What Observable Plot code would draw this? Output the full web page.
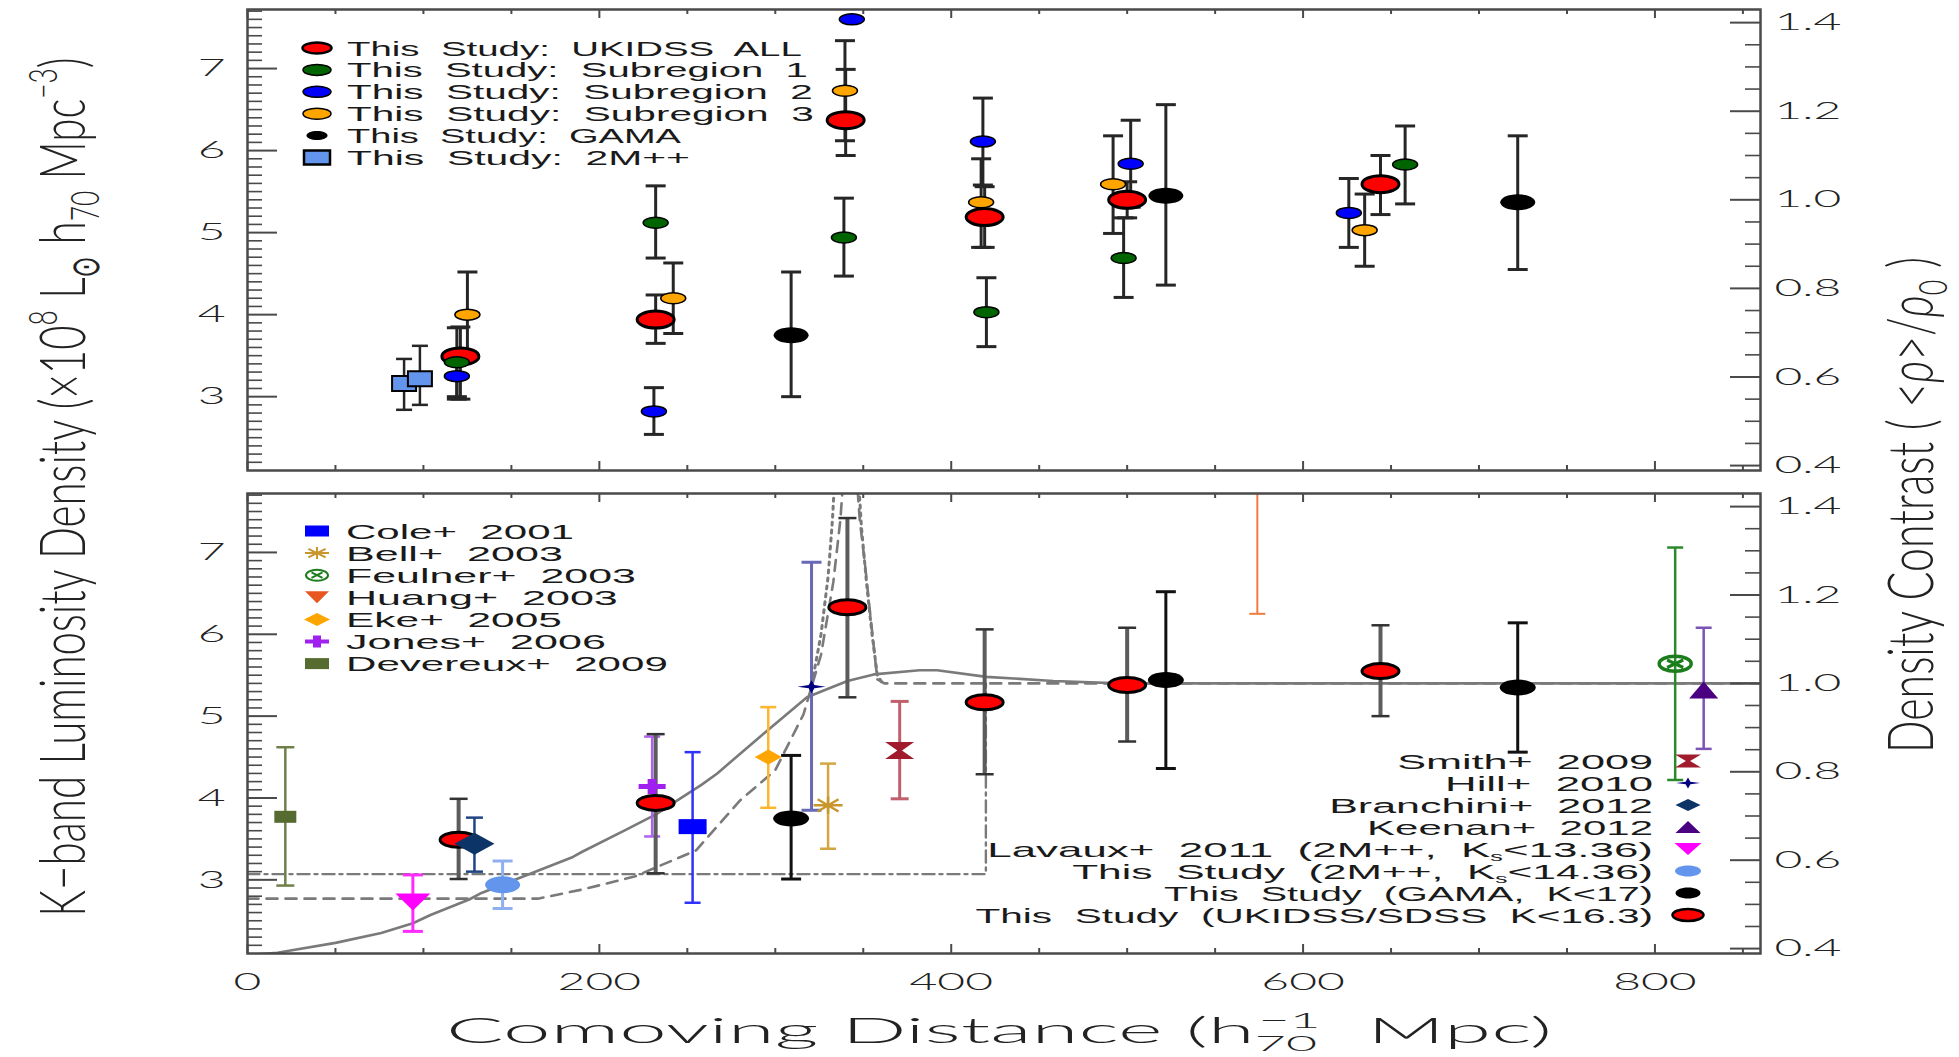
<!DOCTYPE html>
<html><head><meta charset="utf-8">
<script src="https://cdn.jsdelivr.net/npm/d3@7"></script>
<script src="https://cdn.jsdelivr.net/npm/@observablehq/plot@0.6"></script>
<style>
html,body{margin:0;padding:0;background:#fff;width:1959px;height:1057px;overflow:hidden;}
#wrap{position:relative;width:1959px;height:1057px;}
#topPanel,#botPanel,#ov{position:absolute;left:0;}
#topPanel{top:0px} #botPanel{top:480px} #ov{top:0px;pointer-events:none;}
</style></head>
<body><div id="wrap"><div id="topPanel"></div><div id="botPanel"></div><svg id="ov" width="1959" height="1057"></svg></div>
<script>
// ---------------- DATA (distance Mpc, value, lower, upper) ----------------
// Top panel
const topUkidssAll = [[121,3.49,2.97,3.85],[232,3.94,3.65,4.24],[340,6.37,5.94,6.99],[419,5.19,4.82,5.56],[500,5.40,5.18,5.62],[644,5.59,5.22,5.94]];
const topSub1 = [[119,3.42,3.00,3.84],[232,5.12,4.69,5.57],[339,4.94,4.47,5.42],[420,4.03,3.61,4.45],[498,4.69,4.21,5.18],[658,5.83,5.35,6.30]];
const topSub2 = [[119,3.25,2.97,3.53],[231,2.82,2.54,3.11],[343.5,7.60,7.60,7.60],[418,6.11,5.58,6.64],[502,5.84,5.31,6.37],[626,5.24,4.82,5.66]];
const topSub3 = [[125,4.00,3.48,4.52],[242,4.20,3.77,4.63],[339.6,6.73,6.12,7.34],[417,5.37,4.82,5.90],[492,5.59,4.99,6.18],[635,5.03,4.59,5.47]];
const topGama = [[309,3.75,3.00,4.52],[522,5.45,4.36,6.56],[722,5.37,4.55,6.18]];
const top2Mpp = [[89,3.16,2.84,3.46],[98,3.22,2.90,3.62]];
// Bottom panel
const studyUkidss = [[120,3.49,3.01,3.99],[232,3.94,3.08,4.78],[341,6.33,5.23,7.42],[419,5.17,4.29,6.06],[500,5.38,4.69,6.08],[644,5.55,5.00,6.11]];
const studyGama = [[309,3.75,3.01,4.52],[522,5.44,4.36,6.52],[722,5.35,4.56,6.14]];
const study2Mpp = [[145,2.94,2.65,3.23]];
const lavaux2011 = [[94,2.73,2.37,3.06]];
const branchini2012 = [[129,3.44,3.10,3.76]];
const keenan2012 = [[827.7,5.32,4.60,6.08]];
const hill2010 = [[320.6,5.36,3.85,6.88]];
const smith2009 = [[370.7,4.58,3.99,5.18]];
const devereux2009 = [[21.5,3.77,2.93,4.62]];
const jones2006 = [[230,4.14,3.53,4.75]];
const eke2005 = [[296,4.50,3.88,5.11]];
const huang2003 = [[574,8.00,6.25,9.75]];
const feulner2003 = [[811.5,5.64,4.22,7.06]];
const bell2003 = [[330,3.91,3.38,4.42]];
const cole2001 = [[253,3.65,2.72,4.56]];
// Model curves (distance, value)
const curveSolid = [[0,2.08],[17,2.11],[50,2.23],[76,2.35],[94,2.47],[104,2.57],[126,2.76],[133,2.84],[152,3.00],[185,3.28],[190,3.34],[215,3.61],[233,3.81],[245,3.98],[258,4.16],[267,4.30],[293,4.78],[318,5.23],[341,5.43],[356,5.51],[382,5.56],[392,5.56],[420,5.48],[458,5.43],[496,5.40],[860,5.40]];
const curveDashed = [[0,2.77],[165,2.77],[190,2.88],[220,3.04],[255,3.36],[280,3.97],[300,4.34],[316,5.02],[326,5.75],[333,6.64],[337,7.40],[339,8.00],[346,8.00],[348,7.40],[351,6.85],[354,6.24],[358,5.45],[362,5.40],[860,5.40]];
const curveDotted = [[320,5.30],[326,6.00],[330,6.70],[332.5,7.40],[334,8.00],[347,8.00],[349,7.30],[352,6.60],[355,6.00],[358,5.50],[361,5.40]];
const curveDashDot = [[0,3.07],[419.7,3.07],[419.7,5.40]];
// Axes
const L0 = 5.4; // luminosity density corresponding to density contrast 1
const xDomain = [0, 860], yDomain = [2.1, 7.72];
const xMajor = [0,200,400,600,800];
const xMinor = [50,100,150,250,300,350,450,500,550,650,700,750,850];
const yMajor = [3,4,5,6,7];
const yMinor = d3.range(22,78).map(i=>i/10).filter(v=>!yMajor.includes(v));
const rMajor = [0.4,0.6,0.8,1.0,1.2,1.4];
const rMinor = d3.range(8,29).filter(i=>i%4!==0).map(i=>i*0.05);

(function(){
// ---------------- symbols ----------------
const K = 0.5523;
const ellipse = (rx,ry)=>({draw(c){c.moveTo(rx,0);c.bezierCurveTo(rx,ry*K,rx*K,ry,0,ry);c.bezierCurveTo(-rx*K,ry,-rx,ry*K,-rx,0);c.bezierCurveTo(-rx,-ry*K,-rx*K,-ry,0,-ry);c.bezierCurveTo(rx*K,-ry,rx,-ry*K,rx,0);c.closePath();}});
const poly = pts=>({draw(c){pts.forEach(([x,y],i)=>i?c.lineTo(x,y):c.moveTo(x,y));c.closePath();}});
const rect = (w,h)=>poly([[-w/2,-h/2],[w/2,-h/2],[w/2,h/2],[-w/2,h/2]]);
const diamond = (w,h)=>poly([[0,-h/2],[w/2,0],[0,h/2],[-w/2,0]]);
const triUp = (w,h)=>poly([[0,-h/2],[w/2,h/2],[-w/2,h/2]]);
const triDown = (w,h)=>poly([[0,h/2],[w/2,-h/2],[-w/2,-h/2]]);
const plus = (w,h,t)=>{const a=w/2,b=h/2,u=t*w/h/2,v=t/2;return poly([[-u,-b],[u,-b],[u,-v],[a,-v],[a,v],[u,v],[u,b],[-u,b],[-u,v],[-a,v],[-a,-v],[-u,-v]]);};
const star4 = (w,h)=>poly([[0,-h/2],[w*0.1,-h*0.12],[w/2,0],[w*0.1,h*0.12],[0,h/2],[-w*0.1,h*0.12],[-w/2,0],[-w*0.1,-h*0.12]]);
const hourglass = (w,h)=>poly([[-w/2,-h/2],[w/2,-h/2],[w*0.08,0],[w/2,h/2],[-w/2,h/2],[-w*0.08,0]]);
const asterisk = (w,h)=>({draw(c){c.moveTo(-w/2,0);c.lineTo(w/2,0);c.moveTo(0,-h/2);c.lineTo(0,h/2);c.moveTo(-w*0.36,-h*0.36);c.lineTo(w*0.36,h*0.36);c.moveTo(-w*0.36,h*0.36);c.lineTo(w*0.36,-h*0.36);}});
const ocross = (rx,ry)=>({draw(c){ellipse(rx,ry).draw(c);c.moveTo(-rx*0.5,-ry*0.5);c.lineTo(rx*0.5,ry*0.5);c.moveTo(-rx*0.5,ry*0.5);c.lineTo(rx*0.5,-ry*0.5);}});
const hline = w=>({draw(c){c.moveTo(-w/2,0);c.lineTo(w/2,0);}});

// ---------------- helpers ----------------
const rows = a=>a.map(([d,v,lo,hi])=>({d,v,lo,hi}));
const pts = a=>a.map(([d,v])=>({d,v}));
const W=1959, ML=247, MR=199, PW=W-ML-MR, AX="#4a4a4a";
function bars(data,{stroke,sw=2.5,cap=18,capStroke=stroke,capSw=sw}){
  const r=rows(data).filter(o=>o.hi>o.lo);
  return [
    Plot.ruleX(r,{x:"d",y1:"lo",y2:"hi",stroke,strokeWidth:sw,clip:true}),
    Plot.dot(r,{x:"d",y:"lo",symbol:hline(cap),fill:"none",stroke:capStroke,strokeWidth:capSw,clip:true}),
    Plot.dot(r,{x:"d",y:"hi",symbol:hline(cap),fill:"none",stroke:capStroke,strokeWidth:capSw,clip:true})
  ];
}
function marker(data,symbol,fill,stroke="none",sw=0){
  return Plot.dot(rows(data),{x:"d",y:"v",symbol,fill,stroke,strokeWidth:sw,clip:true});
}
function frameMarks(PH,withX){
  const tk={stroke:AX,strokeWidth:2};
  const m=[
    Plot.tickY(yMajor,{y:d=>d,insetRight:PW-30,...tk}),
    Plot.tickY(yMinor,{y:d=>d,insetRight:PW-15,...tk,strokeWidth:1.6}),
    Plot.tickY(rMajor,{y:t=>t*L0,insetLeft:PW-30,...tk}),
    Plot.tickY(rMinor,{y:t=>t*L0,insetLeft:PW-15,...tk,strokeWidth:1.6}),
    Plot.tickX(xMajor,{x:d=>d,insetBottom:PH-9,...tk}),
    Plot.tickX(xMinor,{x:d=>d,insetBottom:PH-5,...tk}),
    Plot.tickX(xMajor,{x:d=>d,insetTop:PH-9,...tk}),
    Plot.tickX(xMinor,{x:d=>d,insetTop:PH-5,...tk}),
    Plot.frame({stroke:AX,strokeWidth:2.5}),
    Plot.text(yMajor,{y:d=>d,text:d=>String(d),frameAnchor:"left",dx:-22,textAnchor:"end",fontSize:24,fontWeight:300,fill:"#222"}),
    Plot.text(rMajor,{y:t=>t*L0,text:t=>t.toFixed(1),frameAnchor:"right",dx:14,textAnchor:"start",fontSize:24,fontWeight:300,fill:"#222"})
  ];
  if(withX) m.push(Plot.text(xMajor,{x:d=>d,text:d=>String(d),frameAnchor:"bottom",dy:19,lineAnchor:"top",fontSize:24,fontWeight:300,fill:"#222"}));
  return m;
}
// horizontally stretch each text about its own anchor point (keeps y / dy attributes intact)
function stretch(svg,s){
  svg.querySelectorAll("text").forEach(t=>{
    const xa=t.getAttribute("x"); let x=0;
    if(xa!=null && xa!=="" && isFinite(+xa)){x=+xa; t.removeAttribute("x");}
    const tr=t.getAttribute("transform")||"";
    t.setAttribute("transform",`${tr} translate(${x},0) scale(${s},1)`);
  });
}
const common={width:W,marginLeft:ML,marginRight:MR,x:{domain:xDomain,axis:null},y:{domain:yDomain,axis:null},
  style:{background:"transparent",fontFamily:"Lato, 'DejaVu Sans', sans-serif",fontSize:"24px",overflow:"visible"}};

// ---------------- TOP PANEL ----------------
const TB="#262626";
const topPlot = Plot.plot({...common,height:480,marginTop:9,marginBottom:10,marks:[
  ...bars(top2Mpp,{stroke:TB,sw:2.5,cap:16}),
  ...bars(topUkidssAll,{stroke:TB,sw:3,cap:20}),
  ...bars(topSub1,{stroke:TB,sw:3,cap:20}),
  ...bars(topSub2,{stroke:TB,sw:3,cap:20}),
  ...bars(topSub3,{stroke:TB,sw:3,cap:20}),
  ...bars(topGama,{stroke:TB,sw:3,cap:20}),
  marker(topUkidssAll,ellipse(18.5,8.5),"#ff0000","#000",3),
  marker(topSub1,ellipse(12.5,5.5),"#006400","#000",1.5),
  marker(topSub2,ellipse(12.5,5.5),"#0000ff","#000",1.5),
  marker(topSub3,ellipse(12.5,5.5),"#ffa500","#000",1.5),
  marker(topGama,ellipse(17.5,8),"#000"),
  marker(top2Mpp,rect(24,15),"#6495ed","#000",2),
  ...frameMarks(461,false)
]});
stretch(topPlot,2.0);
document.getElementById("topPanel").appendChild(topPlot);

// ---------------- BOTTOM PANEL ----------------
const botPlot = Plot.plot({...common,height:577,marginTop:13,marginBottom:104,marks:[
  Plot.line(pts(curveSolid),{x:"d",y:"v",stroke:"#7a7a7a",strokeWidth:2.6,clip:true}),
  Plot.line(pts(curveDashed),{x:"d",y:"v",stroke:"#7a7a7a",strokeWidth:2.6,strokeDasharray:"11,8",clip:true}),
  Plot.line(pts(curveDotted),{x:"d",y:"v",stroke:"#7a7a7a",strokeWidth:3,strokeDasharray:"3,5",clip:true}),
  Plot.line(pts(curveDashDot),{x:"d",y:"v",stroke:"#7a7a7a",strokeWidth:2.4,strokeDasharray:"12,5,3,5",clip:true}),
  ...bars(devereux2009,{stroke:"#6f7f48",sw:2.5,cap:18}),
  ...bars(lavaux2011,{stroke:"#ff2bff",sw:3,cap:20}),
  ...bars(study2Mpp,{stroke:"#8fb0f0",sw:3,cap:20}),
  ...bars(branchini2012,{stroke:"#1f4585",sw:2.5,cap:17}),
  ...bars(jones2006,{stroke:"#b060f0",sw:2.5,cap:16}),
  ...bars(cole2001,{stroke:"#3030ff",sw:2.5,cap:16}),
  ...bars(eke2005,{stroke:"#ffb52e",sw:2.5,cap:16}),
  ...bars(hill2010,{stroke:"#6868b8",sw:3,cap:20}),
  ...bars(bell2003,{stroke:"#d4a642",sw:2.5,cap:16}),
  ...bars(smith2009,{stroke:"#c0606c",sw:3,cap:18}),
  ...bars(huang2003,{stroke:"#f07b3c",sw:2,cap:16}),
  ...bars(feulner2003,{stroke:"#2a8a2a",sw:2.5,cap:16}),
  ...bars(keenan2012,{stroke:"#7b55b5",sw:2.5,cap:16}),
  ...bars(studyUkidss,{stroke:"#5c5c5c",sw:4,cap:18,capStroke:"#333",capSw:2.5}),
  ...bars(studyGama,{stroke:"#111",sw:3,cap:20}),
  marker(studyUkidss,ellipse(18.5,7.5),"#ff0000","#000",3),
  marker(studyGama,ellipse(18,8),"#000"),
  marker(study2Mpp,ellipse(17.5,8.5),"#6495ed"),
  marker(lavaux2011,triDown(35,17),"#ff00ff"),
  marker(branchini2012,diamond(40,22),"#0d3466"),
  marker(devereux2009,rect(22,12),"#556b2f"),
  marker(jones2006,plus(27,15,5),"#a020f0"),
  marker(cole2001,rect(28,15),"#0000ff"),
  marker(eke2005,diamond(27,15),"#ffa500"),
  marker(hill2010,star4(28,13),"#000080"),
  marker(bell2003,asterisk(29,17),"none","#c8962d",2.5),
  marker(smith2009,hourglass(29,17),"#a01c2c"),
  marker(huang2003,triDown(28,15),"#e8571f"),
  marker(feulner2003,ocross(16,7.5),"none","#1c7d1c",3.5),
  marker(keenan2012,triUp(29,17),"#4b0082"),
  ...frameMarks(460,true)
]});
stretch(botPlot,2.0);
document.getElementById("botPanel").appendChild(botPlot);

// ---------------- LEGENDS & TITLES (overlay) ----------------
const ov = d3.select("#ov");
function sym(x,y,S,fill,stroke="none",sw=0){
  ov.append("path").attr("d",d3.symbol().type(S).size(1)()).attr("transform",`translate(${x},${y})`)
    .attr("fill",fill).attr("stroke",stroke).attr("stroke-width",sw);
}
function rich(parts,{size,family,weight="normal",fill="#1a1a1a",anchor="start"}){
  const t=ov.append("text").attr("font-size",size).attr("font-family",family).attr("font-weight",weight)
    .attr("fill",fill).attr("text-anchor",anchor).style("white-space","pre");
  for(const p of parts){
    if(typeof p==="string"){t.append("tspan").text(p);continue;}
    const s=t.append("tspan").text(p.t);
    if(p.dy) s.attr("dy",p.dy); if(p.dx) s.attr("dx",p.dx);
    if(p.fs) s.attr("font-size",p.fs); if(p.it) s.attr("font-style","italic");
  }
  return t;
}
function fitH(t,x,y,target){const L=t.node().getComputedTextLength();t.attr("transform",`translate(${x},${y}) scale(${target/L},1)`);}
function fitV(t,x,y,target,sx){const L=t.node().getComputedTextLength();t.attr("transform",`translate(${x},${y}) scale(${sx},1) rotate(-90) scale(${target/L},1)`);}
const LF="'Liberation Sans', Arial, sans-serif";

const legendTop=[
  ["This  Study:  UKIDSS  ALL",455,ellipse(14.5,5.5),"#ff0000","#000",2.5],
  ["This  Study:  Subregion  1",461,ellipse(14,5.5),"#006400","#000",1.5],
  ["This  Study:  Subregion  2",466,ellipse(14,5.5),"#0000ff","#000",1.5],
  ["This  Study:  Subregion  3",467,ellipse(14,5.5),"#ffa500","#000",1.5],
  ["This  Study:  GAMA",334,ellipse(10.5,4.5),"#000","none",0],
  ["This  Study:  2M++",343,rect(26,14),"#6495ed","#000",2.5]
];
legendTop.forEach(([lab,len,S,f,s,w],i)=>{const y=48+21.9*i;sym(317,y,S,f,s,w);fitH(rich([lab],{size:21,family:LF}),347,y+7.5,len);});

const legendBL=[
  ["Cole+  2001",228,rect(24,11),"#0000ff","none",0],
  ["Bell+  2003",217,asterisk(24,12),"none","#c8962d",2],
  ["Feulner+  2003",290,ocross(11,5.5),"none","#1c7d1c",2],
  ["Huang+  2003",272,triDown(24,12),"#e8571f","none",0],
  ["Eke+  2005",216,diamond(26,13),"#ffa500","none",0],
  ["Jones+  2006",260,plus(24,12,4),"#a020f0","none",0],
  ["Devereux+  2009",322,rect(24,11),"#556b2f","none",0]
];
legendBL.forEach(([lab,len,S,f,s,w],i)=>{const y=531+22.1*i;sym(317,y,S,f,s,w);fitH(rich([lab],{size:21,family:LF}),346,y+7.5,len);});

const legendBR=[
  [["Smith+  2009"],256,hourglass(26,13),"#a01c2c","none",0],
  [["Hill+  2010"],208,star4(24,11),"#000080","none",0],
  [["Branchini+  2012"],324,diamond(25,12),"#0d3466","none",0],
  [["Keenan+  2012"],286,triUp(25,12),"#4b0082","none",0],
  [["Lavaux+  2011  (2M++,  K",{t:"s",fs:12,dy:4},{t:"<13.36)",dy:-4}],666,triDown(27,12),"#ff00ff","none",0],
  [["This  Study  (2M++,  K",{t:"s",fs:12,dy:4},{t:"<14.36)",dy:-4}],581,ellipse(13,5.5),"#6495ed","none",0],
  [["This  Study  (GAMA,  K<17)"],489,ellipse(12.5,5.5),"#000","none",0],
  [["This  Study  (UKIDSS/SDSS  K<16.3)"],678,ellipse(15.5,6),"#ff0000","#000",2.5]
];
legendBR.forEach(([parts,len,S,f,s,w],i)=>{const y=761+22*i;sym(1688,y,S,f,s,w);
  const t=rich(parts,{size:21,family:LF,anchor:"end"});const L=t.node().getComputedTextLength();
  t.attr("transform",`translate(1653,${y+7.5}) scale(${len/L},1)`);});

const TF="Lato, 'DejaVu Sans', sans-serif";
fitV(rich(["K−band Luminosity Density (×10",{t:"8",fs:20,dy:-14},{t:" L",dy:14},{t:"⊙",fs:20,dy:7},{t:" h",dy:-7},{t:"70",fs:20,dy:7},{t:" Mpc",dy:-7},{t:"−3",fs:20,dy:-14},{t:")",dy:14}],
  {size:32,family:TF,weight:300,fill:"#222",anchor:"middle"}),85,487,860,2.0);
fitV(rich(["Density Contrast ( <",{t:"ρ",it:true},">/",{t:"ρ",it:true},{t:"0",fs:20,dy:7},{t:" )",dy:-7}],
  {size:32,family:TF,weight:300,fill:"#222",anchor:"middle"}),1933,505,496,2.0);
fitH(rich(["Comoving Distance (h",{t:"70",fs:22,dy:8},{t:"−1",fs:22,dx:-24,dy:-23},{t:"  Mpc)",dy:15}],
  {size:35,family:TF,weight:300,fill:"#222",anchor:"middle"}),999,1043,1165);
})();
</script></body></html>
